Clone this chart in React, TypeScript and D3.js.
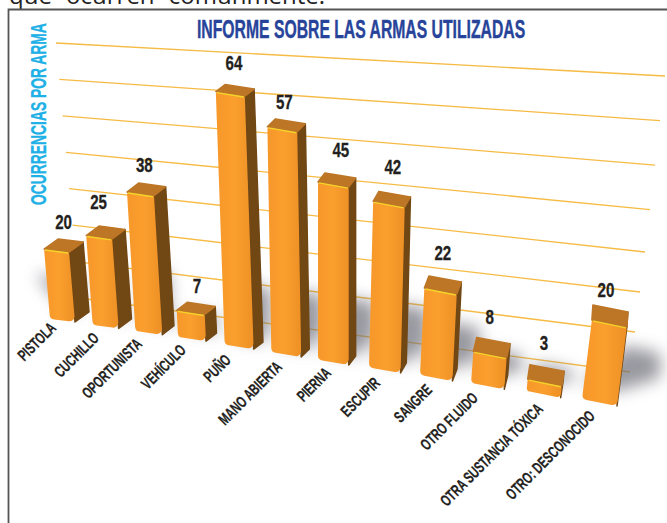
import React from "react";
import * as d3 from "d3";

const categories = ["PISTOLA","CUCHILLO","OPORTUNISTA","VEHÍCULO","PUÑO","MANO ABIERTA","PIERNA","ESCUPIR","SANGRE","OTRO FLUIDO","OTRA SUSTANCIA TÓXICA","OTRO: DESCONOCIDO"];
const values = [20,25,38,7,64,57,45,42,22,8,3,20];
const gridTicks = [0,10,20,30,40,50,60,70];
const idx = categories.map((_, i) => i);

// perspective calibration of the picture
const baseX = d3.scaleLinear([0,3,6,9,11],[50,178,318,471,582]);
const baseY = d3.scaleLinear([0,3,8,11],[319,337,375,399]);
const frontW = d3.scaleLinear([0,4,11],[25,29,35]);
const baseSlope = d3.scaleLinear([0,11],[3,7]);
const lean = d3.scaleLinear([0,4,6,11],[-0.085,-0.035,0,0.125]);
const depthX = d3.scaleLinear([0,11],[14,1]);
const depthY = d3.scaleLinear([0,2,4,7,9,11],[-10,-9,-7,-10,-14,-15]);
const heightK = d3.scaleLinear([0,2,4,11],[0.885,0.925,1,1]);
const heightV = d3.scaleLinear([0,64],[0,253]);
const labelEndX = d3.scaleLinear(idx,[57,100,143,187,232,283,332,381,433,479,544,596]);
const labelEndY = d3.scaleLinear(idx,[329,339,345,351,361,368,374,384,391,399,410,417]);
const valueDx = d3.scaleLinear(idx,[0,-7,-2,1,-1,-2,4,1,0,-2,-2,-4]);
const valueDy = d3.scaleLinear(idx,[-10,-17,-11,-9,-15,-10,-16,-17,-16,-13,-15,-8]);
const shadowDx = d3.scaleLinear(idx,[-28,-12,-5,0,8,14,20,22,22,14,10,42]);
const gridLeftX = d3.scaleLinear([0,70],[79,56]);
const gridLeftY = d3.scaleLinear([0,70],[298,43]);
const gridRightX = d3.scaleLinear([0,70],[630,665]);
const gridRightY = d3.scaleLinear([0,35,70],[372,232,76]);

type P = [number, number];
const NARROW = "'Liberation Sans', sans-serif";
const closed = d3.line<P>().curve(d3.curveLinearClosed);

function rounded(pts: P[], r: number[]) {
  const p = d3.path();
  const n = pts.length;
  const dist = (a: P, b: P) => Math.hypot(a[0] - b[0], a[1] - b[1]);
  const mid = (a: P, b: P): P => [(a[0] + b[0]) / 2, (a[1] + b[1]) / 2];
  const s = mid(pts[n - 1], pts[0]);
  p.moveTo(s[0], s[1]);
  pts.forEach((c, i) => {
    const nx = pts[(i + 1) % n];
    const pv = pts[(i + n - 1) % n];
    const lim = Math.min(dist(c, nx), dist(c, pv)) * 0.3;
    p.arcTo(c[0], c[1], nx[0], nx[1], Math.min(r[i], lim));
  });
  p.closePath();
  return p.toString();
}

function geom(i: number) {
  const h = heightV(values[i]) * heightK(i);
  const x = baseX(i), y = baseY(i), w = frontW(i), s = baseSlope(i);
  const dx = lean(i) * h;
  const fbl: P = [x, y], fbr: P = [x + w, y + s];
  const ftl: P = [x + dx, y - h];
  const ftr: P = [x + w + dx, y + s - h];
  const d: P = [depthX(i), depthY(i)];
  const add = (p: P): P => [p[0] + d[0], p[1] + d[1]];
  return { h, fbl, fbr, ftl, ftr, btl: add(ftl), btr: add(ftr), bbr: add(fbr), bbl: add(fbl) };
}

export default function App() {
  const bars = idx.map(geom);
  return (
    <svg width={667} height={523} style={{ position: "absolute", left: 0, top: 0 }}>
      <defs>
        <filter id="blur" x="-60%" y="-60%" width="220%" height="220%"><feGaussianBlur stdDeviation="8" /></filter>
        <linearGradient id="front" x1="0" x2="1" y1="0" y2="0">
          <stop offset="0" stopColor="#f7982a" /><stop offset="0.5" stopColor="#fa9f2e" /><stop offset="1" stopColor="#ee9025" />
        </linearGradient>
      </defs>
      <rect x={0} y={0} width={667} height={523} fill="#fff" />
      <text x={9} y={4} fontFamily="'Open Sans', sans-serif" fontSize={24} fill="#222" wordSpacing={8}>que ocurren comúnmente.</text>
      <path d="M8.5 523V9.5H667" fill="none" stroke="#555" strokeWidth={1.8} />

      {gridTicks.map((t) => (
        <line key={t} x1={gridLeftX(t)} y1={gridLeftY(t)} x2={gridRightX(t)} y2={gridRightY(t)} stroke="#f6bb45" strokeWidth={1.3} />
      ))}

      <g filter="url(#blur)" opacity={0.7}>
        {bars.map((b, i) => {
          const len = Math.min(b.h, 120) * 0.38 + 8;
          const sx = shadowDx(i);
          const a = b.bbl, c = b.bbr;
          const pts: P[] = [a, c, [c[0] + sx, c[1] - len * 0.35], [c[0] + sx, c[1] - len], [a[0] + sx, a[1] - len]];
          return <path key={i} d={closed(pts) ?? ""} fill="#6d6d78" />;
        })}
      </g>

      {bars.map((b, i) => (
        <g key={i}>
          <path d={closed([b.ftr, b.btr, b.bbr, b.fbr]) ?? ""} fill="#714714" stroke="#714714" strokeWidth={1.5} strokeLinejoin="round" />
          <path d={rounded([b.ftl, b.ftr, b.fbr, b.fbl], [2, 2, 5, 5])} fill="url(#front)" />
          <path d={closed([b.ftl, b.btl, b.btr, b.ftr]) ?? ""} fill="#bd7626" stroke="#bd7626" strokeWidth={1.5} strokeLinejoin="round" />
          <line x1={b.ftl[0] + 1} y1={b.ftl[1] + 1} x2={b.ftr[0] - 1} y2={b.ftr[1] + 1} stroke="#f5d42a" strokeWidth={1.4} />
        </g>
      ))}

      {bars.map((b, i) => (
        <text key={i} transform={`translate(${(b.btl[0] + b.ftr[0]) / 2 + valueDx(i)},${b.btl[1] + valueDy(i)}) scale(0.72,1)`} textAnchor="middle"
          fontFamily={NARROW} fontWeight={700} fontSize={21} fill="#231f20" stroke="#231f20" strokeWidth={0.3}>{values[i]}</text>
      ))}

      {categories.map((c, i) => (
        <text key={c} transform={`translate(${labelEndX(i)},${labelEndY(i)}) rotate(-45) scale(0.67,1)`} textAnchor="end"
          fontFamily={NARROW} fontWeight={700} fontSize={16} fill="#231f20" stroke="#231f20" strokeWidth={0.25}>{c}</text>
      ))}

      <text transform="translate(197,38) scale(0.63,1)"
        fontFamily={NARROW} fontWeight={700} fontSize={25} fill="#27449a" stroke="#27449a" strokeWidth={0.4}>INFORME SOBRE LAS ARMAS UTILIZADAS</text>
      <text transform="translate(46,205) rotate(-90) scale(0.63,1)"
        fontFamily={NARROW} fontWeight={700} fontSize={22} fill="#1fb0e6" stroke="#1fb0e6" strokeWidth={0.3}>OCURRENCIAS POR ARMA</text>
    </svg>
  );
}
